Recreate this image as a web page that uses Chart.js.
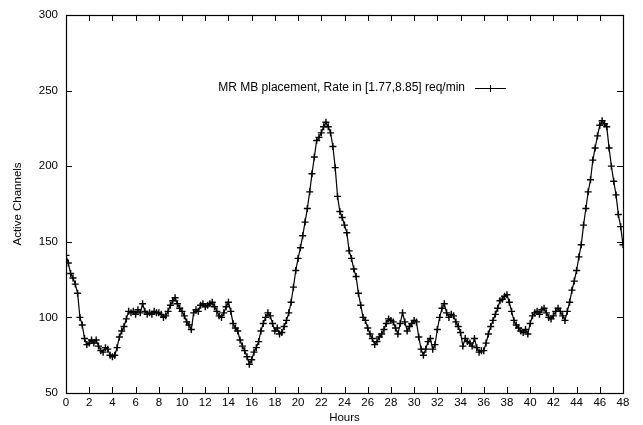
<!DOCTYPE html>
<html>
<head>
<meta charset="utf-8">
<script src="https://cdn.jsdelivr.net/npm/chart.js@4/dist/chart.umd.min.js"></script>
<style>
html,body{margin:0;padding:0;background:#fff;}
#c{display:block;}
</style>
</head>
<body>
<canvas id="c" width="643" height="425"></canvas>
<script>
// Hours (x values, sampled every 0.2 h)
const hours = [
0,0.2,0.4,0.6,0.8,1,1.2,1.4,1.6,1.8,2,2.2,2.4,2.6,2.8,3,3.2,3.4,3.6,3.8,
4,4.2,4.4,4.6,4.8,5,5.2,5.4,5.6,5.8,6,6.2,6.4,6.6,6.8,7,7.2,7.4,7.6,7.8,
8,8.2,8.4,8.6,8.8,9,9.2,9.4,9.6,9.8,10,10.2,10.4,10.6,10.8,11,11.2,11.4,11.6,11.8,
12,12.2,12.4,12.6,12.8,13,13.2,13.4,13.6,13.8,14,14.2,14.4,14.6,14.8,15,15.2,15.4,15.6,15.8,
16,16.2,16.4,16.6,16.8,17,17.2,17.4,17.6,17.8,18,18.2,18.4,18.6,18.8,19,19.2,19.4,19.6,19.8,
20,20.2,20.4,20.6,20.8,21,21.2,21.4,21.6,21.8,22,22.2,22.4,22.6,22.8,23,23.2,23.4,23.6,23.8,
24,24.2,24.4,24.6,24.8,25,25.2,25.4,25.6,25.8,26,26.2,26.4,26.6,26.8,27,27.2,27.4,27.6,27.8,
28,28.2,28.4,28.6,28.8,29,29.2,29.4,29.6,29.8,30,30.2,30.4,30.6,30.8,31,31.2,31.4,31.6,31.8,
32,32.2,32.4,32.6,32.8,33,33.2,33.4,33.6,33.8,34,34.2,34.4,34.6,34.8,35,35.2,35.4,35.6,35.8,
36,36.2,36.4,36.6,36.8,37,37.2,37.4,37.6,37.8,38,38.2,38.4,38.6,38.8,39,39.2,39.4,39.6,39.8,
40,40.2,40.4,40.6,40.8,41,41.2,41.4,41.6,41.8,42,42.2,42.4,42.6,42.8,43,43.2,43.4,43.6,43.8,
44,44.2,44.4,44.6,44.8,45,45.2,45.4,45.6,45.8,46,46.2,46.4,46.6,46.8,47,47.2,47.4,47.6,47.8,
48
];

// Active channels
const activeChannels = [
141,136,129,126,122,116,100,95,86,82,83,85,83,85,81,78,77,80,79,75,
74,75,80,87,91,94,99,104,103,104,102,105,103,109,104,102,103,102,104,103,
103,102,100,101,104,108,111,113,109,106,104,101,97,95,92,103,105,104,108,109,
107,108,109,110,107,104,101,100,103,107,110,104,96,93,91,85,81,78,74,69,
72,77,80,84,91,96,100,103,101,96,91,93,89,90,94,98,103,110,120,131,
139,146,154,163,172,183,195,206,217,219,222,226,229,226,222,213,199,180,170,166,
161,156,144,139,132,127,116,108,100,98,93,89,86,82,84,87,89,92,96,99,
98,97,93,89,96,103,97,91,94,96,98,97,87,79,75,79,84,86,79,82,
92,100,106,109,103,100,102,101,97,94,90,81,86,84,83,81,86,80,77,78,
78,83,89,94,98,102,106,111,112,114,115,110,104,98,95,93,91,90,92,89,
96,101,103,104,102,105,106,103,100,99,101,104,106,104,101,98,104,110,118,124,
131,140,148,161,172,183,191,204,212,220,227,230,228,226,212,200,190,181,168,160,
148
];

const xTicks = [0,2,4,6,8,10,12,14,16,18,20,22,24,26,28,30,32,34,36,38,40,42,44,46,48];
const yTicks = [50,100,150,200,250,300];
const seriesLabel = 'MR MB placement, Rate in [1.77,8.85] req/min';
const xTitle = 'Hours';
const yTitle = 'Active Channels';

const FONT = "'Liberation Sans', Arial, Helvetica, sans-serif";

const points = hours.map((h, i) => ({x: h, y: activeChannels[i]}));

const framePlugin = {
  id: 'gnuplotFrame',
  afterDatasetsDraw(chart) {
    const {ctx, chartArea: a, scales} = chart;
    const xs = scales.x, ys = scales.y;
    ctx.save();
    ctx.strokeStyle = '#000';
    ctx.lineWidth = 1;
    ctx.beginPath();
    const tl = 6;
    xTicks.forEach(v => {
      const px = Math.round(xs.getPixelForValue(v)) + 0.5;
      ctx.moveTo(px, a.bottom); ctx.lineTo(px, a.bottom - tl);
      ctx.moveTo(px, a.top); ctx.lineTo(px, a.top + tl);
    });
    yTicks.forEach(v => {
      const py = Math.round(ys.getPixelForValue(v)) + 0.5;
      ctx.moveTo(a.left, py); ctx.lineTo(a.left + tl, py);
      ctx.moveTo(a.right, py); ctx.lineTo(a.right - tl, py);
    });
    ctx.stroke();
    ctx.lineWidth = 1.2;
    ctx.strokeRect(Math.round(a.left) + 0.5, Math.round(a.top) + 0.5,
                   Math.round(a.right - a.left), Math.round(a.bottom - a.top));
    // key (legend) in gnuplot style: text then line sample
    ctx.fillStyle = '#000';
    ctx.font = '12px ' + FONT;
    ctx.textAlign = 'right';
    ctx.textBaseline = 'middle';
    const ky = 88;
    ctx.fillText(seriesLabel, 465, ky);
    ctx.lineWidth = 1;
    ctx.beginPath();
    ctx.moveTo(475, ky + 0.5); ctx.lineTo(506, ky + 0.5);
    ctx.moveTo(490.5, ky - 3); ctx.lineTo(490.5, ky + 4);
    ctx.stroke();
    ctx.restore();
  }
};

new Chart(document.getElementById('c'), {
  type: 'line',
  data: {
    datasets: [{
      label: seriesLabel,
      data: points,
      borderColor: '#000',
      backgroundColor: '#000',
      borderWidth: 1.2,
      pointStyle: 'cross',
      pointRadius: 3.5,
      pointBorderWidth: 1.4,
      pointBorderColor: '#000',
      tension: 0,
      fill: false
    }]
  },
  options: {
    responsive: false,
    animation: false,
    devicePixelRatio: 1,
    layout: { padding: { left: 0, right: 20, top: 12, bottom: 0 } },
    plugins: { legend: { display: false }, tooltip: { enabled: false } },
    scales: {
      x: {
        type: 'linear',
        min: 0, max: 48,
        afterBuildTicks(s) { s.ticks = xTicks.map(v => ({value: v})); },
        afterFit(s) { s.height = 32; },
        border: { display: false },
        grid: { display: false, drawTicks: false },
        ticks: { color: '#000', font: { family: FONT, size: 11.5 }, padding: 3, maxRotation: 0, autoSkip: false },
        title: { display: true, text: xTitle, color: '#000', font: { family: FONT, size: 11.5 }, padding: { top: 0, bottom: 0 } }
      },
      y: {
        type: 'linear',
        min: 50, max: 300,
        afterBuildTicks(s) { s.ticks = yTicks.map(v => ({value: v})); },
        afterFit(s) { s.width = 66; },
        border: { display: false },
        grid: { display: false, drawTicks: false },
        ticks: { color: '#000', font: { family: FONT, size: 11.5 }, padding: 8 },
        title: { display: true, text: yTitle, color: '#000', font: { family: FONT, size: 11.5 }, padding: { top: 11, bottom: 0 } }
      }
    }
  },
  plugins: [framePlugin]
});
</script>
</body>
</html>
